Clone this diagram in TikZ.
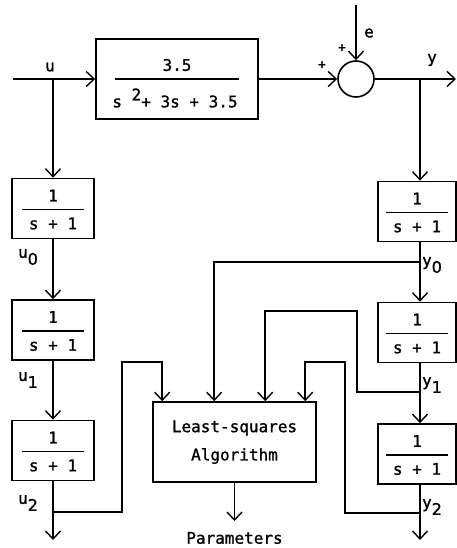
\documentclass[tikz,border=0pt]{standalone}
\usepackage{fontspec}
\newfontfamily\plotfont[FakeBold=1.2]{DejaVu Sans Mono}
\newfontfamily\subfont[FakeBold=1.2]{DejaVu Sans}
\usetikzlibrary{arrows.meta}
\newcommand\tfbox[4]{% name, cx, cy, width
  \node[blk,minimum width=#4pt,minimum height=60pt] (#1) at (#2,#3) {};
  \node[lbl] at (#2,#3-13) {1};
  \draw[line width=1.3pt] (#2-31,#3+1) -- (#2+31,#3+1);
  \node[lbl] at (#2,#3+15) {s + 1};}
\newcommand\subs[1]{\raisebox{-7pt}{\subfont #1}}
\begin{document}
\begin{tikzpicture}[x=1pt,y=-1pt,
  line width=1.6pt,
  font=\plotfont\fontsize{16}{18}\selectfont,
  arr/.style={-{Straight Barb[length=8pt,width=15pt,line width=1.4pt]}},
  blk/.style={draw,rectangle,inner sep=0pt},
  lbl/.style={inner sep=0pt},
  sumc/.style={draw,circle,minimum size=36pt,inner sep=0pt}]
\useasboundingbox (0,0) rectangle (457,548);

% main plant
\node[blk,minimum width=162pt,minimum height=80pt] (G) at (177,79) {};
\node[lbl] at (177,65) {3.5};
\draw[line width=1.3pt] (G.center) ++(-62,0) -- ++(124,0);
\node[lbl] at (175,98) {s \raisebox{7pt}{2}+ 3s + 3.5};

\node[sumc] (S) at (356,79) {};

% filter boxes
\tfbox{L1}{53}{208.5}{82}
\tfbox{L2}{53}{330}{82}
\tfbox{L3}{53}{450.5}{82}
\tfbox{R1}{417}{211.5}{78}
\tfbox{R2}{417}{332.5}{78}
\tfbox{R3}{417}{454}{78}

% least squares
\node[blk,minimum width=163pt,minimum height=80pt] (LS) at (234.5,442) {};
\node[lbl] at (234.5,428) {Least-squares};
\node[lbl] at (234.5,456) {Algorithm};
\coordinate (par) at (234.5,521);
\node[lbl] (ptext) at (234.5,538) {Parameters};

% coordinates
\coordinate (in) at (13,79);
\coordinate (ju) at (53,79);
\coordinate (etop) at (356,5);
\coordinate (out) at (456,79);
\coordinate (jy) at (420,79);
\coordinate (ju2) at (53,512);
\coordinate (uend) at (53,540);
\coordinate (jy0) at (420,262);
\coordinate (jy1) at (420,392);
\coordinate (jy2) at (420,513);
\coordinate (yend) at (420,540);

% connectors
\draw[arr] (in) -- (G.west);
\draw[arr] (G.east) -- (S.west);
\draw[arr] (etop) -- (S.north);
\draw[arr] (S.east) -- (out);
\draw[arr] (ju) -- (L1.north);
\draw[arr] (L1.south) -- (L2.north);
\draw[arr] (L2.south) -- (L3.north);
\draw[arr] (L3.south) -- (uend);
\draw[arr] (jy) -- (jy |- R1.north);
\draw[arr] (jy |- R1.south) -- (jy |- R2.north);
\draw[arr] (jy |- R2.south) -- (jy |- R3.north);
\draw[arr] (jy |- R3.south) -- (yend);
\draw[arr] (LS.south) -- (par);

\draw[arr] (ju2) -| (122,362) -| ([xshift=10pt]LS.north west);
\draw[arr] (jy0) -| ([xshift=62pt]LS.north west);
\draw[arr] (jy1) -| (357,311) -| ([xshift=113pt]LS.north west);
\draw[arr] (jy2) -| (345,362) -| ([xshift=153pt]LS.north west);

% labels
\node[lbl] at (50,67) {u};
\node[lbl] at (322,65) {\fontsize{13}{13}\selectfont +};
\node[lbl] at (342,48) {\fontsize{13}{13}\selectfont +};
\node[lbl] at (369,33) {e};
\node[lbl] at (432,60) {y};
\node[lbl] at (28,257) {u\subs{0}};
\node[lbl] at (28,380) {u\subs{1}};
\node[lbl] at (28,503) {u\subs{2}};
\node[lbl] at (432,265) {y\subs{0}};
\node[lbl] at (432,385) {y\subs{1}};
\node[lbl] at (432,507) {y\subs{2}};
\end{tikzpicture}
\end{document}
